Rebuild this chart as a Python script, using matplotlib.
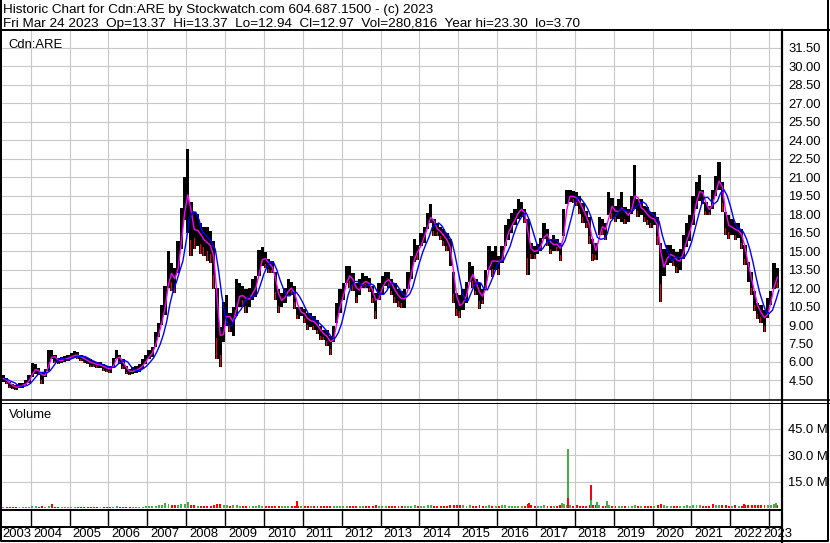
import numpy as np
import pandas as pd
import matplotlib
matplotlib.use('Agg')
import matplotlib.pyplot as plt
from matplotlib.transforms import blended_transform_factory

plt.rcParams['font.family'] = ['Liberation Sans', 'DejaVu Sans']

# monthly high / low, Apr 2003 .. Mar 2023
high = [
    4.9, 4.7, 4.4, 4.2, 4.1, 4.3, 4.3, 4.5, 4.9,                          # 2003
    5.9, 5.8, 5.5, 5.2, 5.4, 7.0, 7.0, 6.6, 6.3, 6.4, 6.5, 6.6,          # 2004
    6.7, 6.9, 6.8, 6.6, 6.5, 6.3, 6.2, 6.1, 6.0, 6.0, 5.8, 5.7,          # 2005
    5.7, 6.3, 7.0, 6.6, 6.2, 5.7, 5.4, 5.6, 5.7, 5.8, 6.2, 6.6,          # 2006
    7.0, 7.2, 8.4, 9.2, 10.6, 12.2, 15.0, 14.0, 13.6, 15.8, 18.5, 21.0,  # 2007
    23.3, 19.0, 18.2, 18.0, 17.3, 17.0, 17.0, 16.6, 15.8, 12.0, 8.8, 10.9,  # 2008
    11.4, 10.0, 10.5, 12.7, 12.4, 12.2, 11.9, 12.0, 12.7, 13.0, 15.1, 15.3,  # 2009
    14.9, 14.4, 14.2, 13.3, 11.9, 11.6, 12.0, 12.7, 12.5, 12.2, 10.5, 10.5,  # 2010
    10.3, 10.0, 10.0, 9.7, 9.4, 8.9, 8.6, 8.6, 8.1, 8.9, 10.8, 11.9,     # 2011
    12.4, 13.8, 13.8, 13.2, 12.4, 12.7, 13.2, 13.0, 12.8, 12.2, 11.6, 12.4,  # 2012
    13.0, 13.3, 13.3, 12.7, 12.4, 11.9, 11.8, 11.9, 13.3, 14.6, 16.0, 15.5,  # 2013
    16.5, 17.0, 18.1, 18.8, 17.6, 17.3, 17.0, 16.8, 16.5, 16.0, 13.3, 11.6,  # 2014
    11.4, 11.9, 12.5, 14.1, 13.8, 12.7, 12.4, 11.9, 13.5, 15.4, 15.0, 15.4,  # 2015
    14.6, 15.4, 17.1, 17.6, 18.1, 18.4, 19.2, 19.0, 18.4, 17.6, 15.7, 15.4,  # 2016
    15.6, 16.1, 17.3, 16.8, 16.0, 16.3, 16.0, 15.7, 18.4, 20.0, 20.0, 19.9,  # 2017
    19.8, 19.5, 18.9, 18.3, 17.8, 16.0, 15.7, 17.8, 17.6, 17.3, 19.8, 19.3,  # 2018
    18.7, 19.2, 19.8, 18.6, 18.4, 19.5, 22.0, 19.2, 19.2, 18.7, 18.6, 18.2,  # 2019
    18.2, 17.8, 15.7, 15.2, 15.5, 15.5, 15.2, 14.9, 15.2, 16.3, 17.3, 17.9,  # 2020
    19.5, 20.6, 21.2, 20.0, 19.0, 18.7, 20.0, 21.1, 22.2, 20.6, 18.2, 17.9,  # 2021
    17.6, 17.3, 17.3, 16.8, 15.5, 14.1, 13.3, 11.8, 10.8, 10.6, 10.2, 11.2,  # 2022
    11.8, 14.0, 13.6,                                                      # 2023
]
low = [
    4.4, 4.2, 3.9, 3.8, 3.7, 3.9, 3.9, 4.1, 4.3,
    4.8, 5.0, 4.9, 4.2, 4.8, 5.3, 6.2, 5.9, 5.8, 5.9, 6.0, 6.1,
    6.2, 6.3, 6.2, 6.1, 5.9, 5.8, 5.6, 5.6, 5.5, 5.5, 5.3, 5.2,
    5.1, 5.5, 6.2, 5.8, 5.4, 5.0, 4.9, 5.0, 5.1, 5.2, 5.4, 5.8,
    6.2, 6.4, 7.2, 8.0, 9.0, 9.8, 12.0, 11.8, 11.6, 13.2, 15.2, 17.5,
    16.5, 14.6, 15.2, 15.4, 14.8, 14.6, 14.2, 14.0, 11.9, 6.2, 5.6, 7.6,
    8.9, 8.4, 8.1, 9.7, 10.5, 10.5, 10.0, 10.5, 11.0, 11.3, 13.0, 13.8,
    13.6, 13.2, 13.2, 11.0, 10.0, 10.5, 10.8, 11.4, 11.4, 10.3, 9.5, 9.7,
    9.2, 8.6, 8.8, 8.6, 8.3, 7.8, 7.8, 7.3, 6.6, 7.6, 9.2, 10.0,
    11.0, 12.4, 12.0, 11.8, 10.8, 11.4, 12.0, 12.0, 11.7, 10.8, 9.5, 11.0,
    11.4, 12.2, 12.0, 11.4, 10.8, 10.5, 10.4, 10.4, 11.9, 12.7, 14.1, 14.3,
    15.4, 15.7, 16.8, 17.3, 16.2, 16.2, 15.9, 15.4, 15.0, 13.8, 10.8, 9.7,
    9.6, 10.2, 10.8, 12.5, 12.0, 11.4, 10.3, 10.7, 11.9, 13.5, 12.9, 13.5,
    13.1, 14.0, 15.4, 15.9, 16.5, 17.1, 17.6, 17.8, 17.3, 13.1, 14.4, 14.4,
    14.8, 15.0, 16.0, 15.4, 14.8, 15.0, 15.0, 14.2, 16.2, 18.8, 19.0, 18.9,
    18.7, 18.0, 17.3, 16.9, 15.6, 14.2, 14.3, 16.3, 16.3, 15.9, 17.9, 17.6,
    17.4, 17.6, 17.4, 17.2, 17.4, 18.0, 18.4, 17.8, 17.9, 17.4, 17.1, 16.9,
    17.1, 15.5, 10.9, 13.0, 13.9, 14.0, 13.8, 13.2, 13.5, 14.4, 15.3, 15.8,
    17.1, 18.4, 19.1, 18.8, 17.9, 17.9, 18.4, 19.5, 20.0, 18.2, 16.3, 16.0,
    16.3, 15.9, 16.1, 15.2, 13.9, 12.5, 11.4, 10.1, 9.5, 9.2, 8.4, 9.6,
    10.6, 11.9, 12.0,
]
# typical daily volume per month, millions
volume = [
    0.8, 0.6, 0.7, 0.8, 0.6, 0.7, 0.8, 0.7, 0.9,
    1.1, 1.0, 0.9, 1.0, 0.8, 1.2, 1.9, 0.8, 0.7, 0.8, 0.7, 0.8,
    0.8, 0.7, 0.8, 0.7, 0.7, 0.8, 0.7, 0.7, 0.8, 0.7, 0.8, 0.7,
    0.8, 0.9, 1.2, 0.9, 0.8, 0.7, 0.7, 0.8, 0.7, 0.8, 0.9, 1.0,
    1.0, 1.0, 1.3, 1.5, 1.8, 2.2, 2.6, 1.8, 1.5, 2.0, 2.4, 2.2,
    2.8, 1.8, 1.5, 1.4, 1.3, 1.3, 1.4, 1.3, 1.8, 2.4, 2.1, 1.8,
    1.5, 1.4, 1.5, 1.8, 1.3, 1.2, 1.1, 1.2, 1.3, 1.3, 1.5, 1.4,
    1.3, 1.2, 1.1, 1.4, 1.4, 1.2, 1.1, 1.2, 1.1, 1.3, 1.4, 1.3,
    1.2, 1.3, 1.2, 1.1, 1.2, 1.3, 1.1, 1.4, 1.4, 1.3, 1.4, 1.2,
    1.3, 1.4, 1.2, 1.1, 1.3, 1.2, 1.1, 1.1, 1.2, 1.3, 1.5, 1.2,
    1.2, 1.1, 1.2, 1.3, 1.2, 1.4, 1.1, 1.1, 1.3, 1.4, 1.5, 1.3,
    1.4, 1.3, 1.5, 1.6, 1.3, 1.2, 1.2, 1.1, 1.3, 1.5, 1.9, 1.8,
    1.7, 1.5, 1.4, 1.5, 1.3, 1.3, 1.5, 1.4, 1.3, 1.6, 1.4, 1.3,
    1.4, 1.5, 1.7, 1.4, 1.3, 1.3, 1.4, 1.2, 1.3, 2.1, 1.5, 1.4,
    1.3, 1.4, 1.7, 1.4, 1.3, 1.4, 1.3, 1.5, 2.3, 2.0, 1.7, 1.4,
    1.5, 1.4, 1.3, 1.4, 1.7, 1.9, 1.6, 1.7, 1.4, 1.3, 1.5, 1.4,
    1.3, 1.4, 1.3, 1.2, 1.3, 1.4, 1.8, 1.3, 1.2, 1.3, 1.2, 1.3,
    1.3, 1.5, 2.1, 1.6, 1.3, 1.2, 1.3, 1.2, 1.3, 1.4, 1.5, 1.4,
    1.5, 1.6, 1.5, 1.3, 1.2, 1.3, 1.4, 1.5, 1.8, 1.7, 1.5, 1.4,
    1.4, 1.5, 1.4, 1.3, 1.6, 1.8, 1.7, 1.5, 1.6, 1.5, 1.9, 1.7,
    1.8, 2.1, 1.7,
]
# single heavy days
spike_t = [2004.55, 2007.45, 2008.05, 2010.84, 2016.83, 2017.66, 2017.815, 2017.815,
           2018.41, 2018.41, 2018.56, 2018.82, 2021.55, 2022.35, 2023.17]
spike_v = [2.4, 3.0, 3.2, 4.0, 2.8, 2.8, 33.6, 5.5, 13.3, 4.6, 3.6, 4.2, 2.6, 2.6, 2.8]
spike_up = [0, 1, 1, 0, 0, 1, 1, 0, 0, 1, 1, 1, 0, 0, 1]

years = list(range(2003, 2024))
price_ticks = [4.5, 6.0, 7.5, 9.0, 10.5, 12.0, 13.5, 15.0, 16.5, 18.0, 19.5,
               21.0, 22.5, 24.0, 25.5, 27.0, 28.5, 30.0, 31.5]
vol_ticks = [15, 30, 45]

title1 = 'Historic Chart for Cdn:ARE by Stockwatch.com 604.687.1500 - (c) 2023'
title2 = ('Fri Mar 24 2023  Op=13.37  Hi=13.37  Lo=12.94  Cl=12.97  '
          'Vol=280,816  Year hi=23.30  lo=3.70')

RED = '#ff0000'
GREEN = '#44b044'
GRID = '#c8c8c8'
FS = 9.4

high = np.array(high)
low = np.array(low)
t = 2003 + (3 + np.arange(len(high))) / 12.0   # start of each month
mid = (high + low) / 2
down = np.r_[False, mid[1:] < mid[:-1]]
ma_fast = pd.Series(mid).rolling(2, min_periods=1).mean()
ma_slow = pd.Series(mid).rolling(4, min_periods=1).mean()

W, H = 830, 543
fig = plt.figure(figsize=(W / 100, H / 100), dpi=100)


def box(l, top, r, b):
    return [l / W, 1 - b / H, (r - l) / W, (b - top) / H]


xlim = (2003.262, 2023.316)

# price panel
ax = fig.add_axes(box(2, 31, 781.5, 400))
ax.bar(t, high - low, bottom=low, width=1 / 12, align='edge', color='black', lw=0)
ax.bar(t[down] + 1 / 40, (mid - low)[down] * 0.6, bottom=low[down], width=1 / 40,
       align='edge', color=RED, lw=0)
ax.plot(t + 1 / 24, ma_fast, color='#ff00ff', lw=1.0)
ax.plot(t + 1 / 12, ma_slow, color='#0000ff', lw=1.0)
ax.set_yticks(price_ticks)
ax.set_yticklabels([f'{v:.2f}' for v in price_ticks])
ax.set_xticks(years)
ax.set_xticklabels([])
ax.set_xlim(xlim)
ax.set_ylim(2.91, 32.88)
ax.yaxis.tick_right()
ax.tick_params(length=0, labelsize=FS, pad=5)
ax.grid(color=GRID, lw=0.8)
ax.set_axisbelow(True)
for s in ax.spines.values():
    s.set_visible(False)
ax.text(0.008, 0.955, 'Cdn:ARE', fontsize=FS, transform=ax.transAxes, va='baseline')

# volume panel
axv = fig.add_axes(box(2, 402, 781.5, 509))
vcol = [RED if d else GREEN for d in down]
axv.bar(t + 1 / 48, volume, width=1 / 20, align='edge', color=vcol, lw=0)
axv.bar(spike_t, spike_v, width=0.05, color=[GREEN if u else RED for u in spike_up], lw=0)
axv.set_yticks(vol_ticks)
axv.set_yticklabels([f'{v:.1f} M' for v in vol_ticks])
axv.set_xticks(years)
axv.set_xticklabels([])
axv.set_xlim(xlim)
axv.set_ylim(-0.5, 60.05)
axv.yaxis.tick_right()
axv.tick_params(length=0, labelsize=FS, pad=5)
axv.grid(color=GRID, lw=0.8)
axv.set_axisbelow(True)
for s in axv.spines.values():
    s.set_visible(False)
axv.text(0.009, 0.855, 'Volume', fontsize=FS, transform=axv.transAxes, va='baseline')

# year row under the volume panel
tr = blended_transform_factory(axv.transData, axv.transAxes)
axv.vlines(years[1:], -0.159, 0, transform=tr, color='black', lw=1.0, clip_on=False)
for y in years:
    x = max(y + 0.077, xlim[0])
    if y == years[-1]:
        x = y - 0.16
    axv.text(x, -0.235, str(y), transform=tr, ha='left', va='center', fontsize=FS)

# frame and title
ov = fig.add_axes([0, 0, 1, 1], zorder=10)
ov.set_xlim(0, W)
ov.set_ylim(H, 0)
ov.axis('off')
ov.patch.set_alpha(0)
k = 0.72  # points per pixel
ov.plot([1, 1, W - 2, W - 2], [0, H - 2, H - 2, 0], color='black', lw=2 * k)
ov.plot([0, W], [29.5, 29.5], color='black', lw=2 * k)
ov.plot([782, 782], [29.5, H], color='black', lw=2.2 * k)
ov.plot([0, W], [400, 400], color='black', lw=1.6 * k)
ov.plot([0, W], [402.5, 402.5], color='black', lw=1 * k)
ov.plot([0, 782], [509.5, 509.5], color='black', lw=2 * k)
ov.plot([0, 782], [526.5, 526.5], color='black', lw=2 * k)
ov.text(3, 12.5, title1, fontsize=9.7, va='baseline')
ov.text(3, 26.5, title2, fontsize=9.7, va='baseline')

fig.savefig('out.png', dpi=100)
